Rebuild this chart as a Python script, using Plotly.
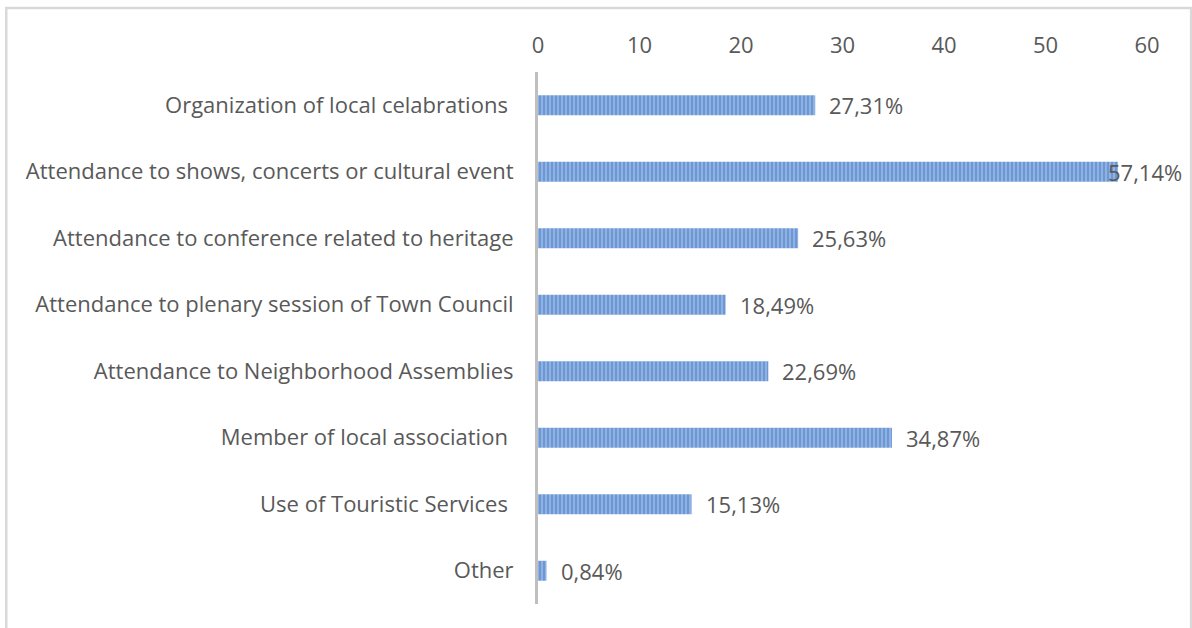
import plotly.graph_objects as go

categories = [
    "Organization of local celabrations\u00a0",
    "Attendance to shows, concerts or cultural event",
    "Attendance to conference related to heritage",
    "Attendance to plenary session of Town Council",
    "Attendance to Neighborhood Assemblies",
    "Member of local association\u00a0",
    "Use of Touristic Services\u00a0",
    "Other",
]
values = [27.31, 57.14, 25.63, 18.49, 22.69, 34.87, 15.13, 0.84]
labels = ["27,31%", "57,14%", "25,63%", "18,49%", "22,69%", "34,87%", "15,13%", "0,84%"]
tick_vals = [0, 10, 20, 30, 40, 50, 60]

FONT = "Open Sans"
FS = 22
GREY = "#595959"

fig = go.Figure()
fig.add_trace(go.Bar(
    y=categories,
    x=values,
    orientation="h",
    width=0.3,
    marker=dict(
        color="#93b4e4",
        line=dict(width=0),
        pattern=dict(shape="|", fgcolor="#4a7cc4", bgcolor="#93b4e4", size=4, solidity=0.55),
    ),
    hoverinfo="skip",
))

for c, v, t in zip(categories, values, labels):
    if v > 55:
        fig.add_annotation(x=v, y=c, text=t, showarrow=False, xanchor="right",
                           xshift=66, font=dict(family=FONT, size=FS, color=GREY))
    else:
        fig.add_annotation(x=v, y=c, text=t, showarrow=False, xanchor="left",
                           xshift=12, font=dict(family=FONT, size=FS, color=GREY))

fig.update_layout(
    width=1192, height=628,
    margin=dict(l=538, r=45, t=72, b=24),
    paper_bgcolor="white", plot_bgcolor="white",
    showlegend=False,
    font=dict(family=FONT, size=FS, color=GREY),
    xaxis=dict(
        side="top", range=[0, 60], tickvals=tick_vals, showgrid=False, zeroline=False,
        showline=False, ticks="", ticklabelstandoff=14,
        tickfont=dict(family=FONT, size=FS, color=GREY),
    ),
    yaxis=dict(
        autorange="reversed", showgrid=False, zeroline=False,
        showline=True, linecolor="#bfbfbf", linewidth=3, ticks="",
        ticklabelstandoff=17,
        tickfont=dict(family=FONT, size=FS, color=GREY),
    ),
    shapes=[dict(type="rect", xref="paper", yref="paper",
                 x0=-530/607, x1=(1189-538)/607, y0=-0.2, y1=(628-8-24)/532,
                 line=dict(color="#d9d9d9", width=2.5), fillcolor="rgba(0,0,0,0)", layer="below")],
)

fig.write_html("out.html")
